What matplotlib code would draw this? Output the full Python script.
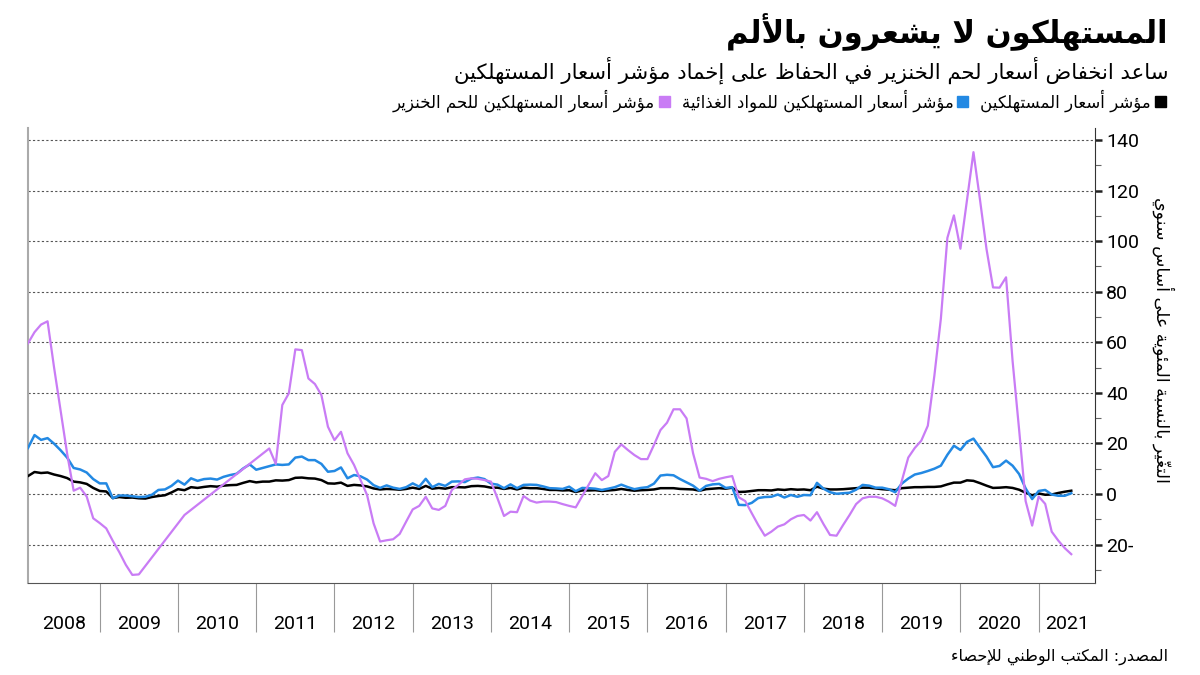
import numpy as np
import matplotlib
matplotlib.use('Agg')
import matplotlib.pyplot as plt
from matplotlib.patches import Rectangle
from matplotlib.ticker import MultipleLocator, FuncFormatter

title = 'المستهلكون لا يشعرون بالألم'
subtitle = 'ساعد انخفاض أسعار لحم الخنزير في الحفاظ على إخماد مؤشر أسعار المستهلكين'
series_names = ['مؤشر أسعار المستهلكين',
                'مؤشر أسعار المستهلكين للمواد الغذائية',
                'مؤشر أسعار المستهلكين للحم الخنزير']
ylabel = 'التغيّر بالنسبة المئوية على أساس سنوي'
source = 'المصدر: المكتب الوطني للإحصاء'
years = list(range(2008, 2022))

# monthly y/y %, Jan 2008 .. May 2021
cpi = [7.1, 8.7, 8.3, 8.5, 7.7, 7.1, 6.3, 4.9, 4.6, 4.0, 2.4, 1.2,
       1.0, -1.6, -1.2, -1.5, -1.4, -1.7, -1.8, -1.2, -0.8, -0.5, 0.6, 1.9,
       1.5, 2.7, 2.4, 2.8, 3.1, 2.9, 3.3, 3.5, 3.6, 4.4, 5.1, 4.6,
       4.9, 4.9, 5.4, 5.3, 5.5, 6.4, 6.5, 6.2, 6.1, 5.5, 4.2, 4.1,
       4.5, 3.2, 3.6, 3.4, 3.0, 2.2, 1.8, 2.0, 1.9, 1.7, 2.0, 2.5,
       2.0, 3.2, 2.1, 2.4, 2.1, 2.7, 2.7, 2.6, 3.1, 3.2, 3.0, 2.5,
       2.5, 2.0, 2.4, 1.8, 2.5, 2.3, 2.3, 2.0, 1.6, 1.6, 1.4, 1.5,
       0.8, 1.4, 1.4, 1.5, 1.2, 1.4, 1.6, 2.0, 1.6, 1.3, 1.5, 1.6,
       1.8, 2.3, 2.3, 2.3, 2.0, 1.9, 1.8, 1.3, 1.9, 2.1, 2.3, 2.1,
       2.5, 0.8, 0.9, 1.2, 1.5, 1.5, 1.4, 1.8, 1.6, 1.9, 1.7, 1.8,
       1.5, 2.9, 2.1, 1.8, 1.8, 1.9, 2.1, 2.3, 2.5, 2.5, 2.2, 1.9,
       1.7, 1.5, 2.3, 2.5, 2.7, 2.7, 2.8, 2.8, 3.0, 3.8, 4.5, 4.5,
       5.4, 5.2, 4.3, 3.3, 2.4, 2.5, 2.7, 2.4, 1.7, 0.5, -0.5, 0.2,
       -0.3, -0.2, 0.4, 0.9, 1.3]

food = [18.2, 23.3, 21.4, 22.1, 19.9, 17.3, 14.4, 10.3, 9.7, 8.5, 5.9, 4.2,
        4.2, -1.7, -0.6, -0.6, -0.9, -1.2, -1.1, -0.3, 1.6, 1.8, 3.2, 5.3,
        3.7, 6.2, 5.2, 5.9, 6.1, 5.7, 6.8, 7.5, 8.0, 10.1, 11.7, 9.6,
        10.3, 11.0, 11.7, 11.5, 11.7, 14.4, 14.8, 13.4, 13.4, 11.9, 8.8, 9.1,
        10.5, 6.2, 7.5, 7.0, 5.7, 3.5, 2.4, 3.4, 2.5, 2.0, 2.7, 4.2,
        2.9, 6.0, 2.7, 4.0, 3.2, 4.9, 5.0, 4.7, 6.1, 6.5, 5.9, 4.1,
        3.7, 2.3, 3.8, 2.3, 3.6, 3.7, 3.6, 3.0, 2.3, 2.2, 2.0, 2.9,
        1.1, 2.4, 2.3, 2.1, 1.6, 2.1, 2.7, 3.7, 2.7, 1.9, 2.4, 2.7,
        4.1, 7.3, 7.6, 7.4, 5.9, 4.6, 3.3, 1.3, 3.2, 3.8, 4.0, 2.4,
        2.7, -4.3, -4.4, -3.5, -1.6, -1.2, -1.1, -0.2, -1.4, -0.4, -1.1, -0.4,
        -0.5, 4.4, 2.1, 0.7, 0.1, 0.3, 0.5, 1.7, 3.6, 3.3, 2.5, 2.5,
        1.9, 0.7, 4.1, 6.1, 7.7, 8.3, 9.1, 10.0, 11.2, 15.5, 19.1, 17.4,
        20.6, 21.9, 18.3, 14.8, 10.6, 11.1, 13.2, 11.2, 7.9, 2.2, -2.0, 1.2,
        1.6, -0.2, -0.7, -0.7, 0.3]

# None = month missing in the source series
pork = [59.6, 64.0, 67.0, 68.3, 50.0, 33.0, 16.0, 1.3, 2.5, -1.0, -9.6, -11.5,
        -13.6, -18.5, -23.0, -28.0, -32.0, -31.8, None, None, None, None, None, None,
        -8.3, None, None, None, None, None, None, None, None, None, None, None,
        None, 18.0, 11.9, 35.2, 39.8, 57.2, 56.9, 45.7, 43.5, 39.1, 26.6, 21.3,
        24.6, 16.1, 11.5, 5.5, -0.4, -11.6, -18.8, -18.3, -17.9, -15.8, -10.9, -6.1,
        -4.7, -1.1, -5.7, -6.3, -4.7, 1.6, 3.6, 5.8, 6.2, 6.0, 5.5, 4.9,
        -1.7, -8.7, -7.0, -7.2, -0.8, -2.6, -3.4, -3.0, -3.0, -3.2, -4.0, -4.7,
        -5.3, -0.8, 3.7, 8.2, 5.5, 7.1, 16.7, 19.6, 17.4, 15.4, 13.8, 13.8,
        19.4, 25.3, 28.2, 33.5, 33.5, 29.9, 16.1, 6.5, 6.0, 5.1, 6.0, 6.6,
        7.1, -1.3, -2.8, -7.6, -12.3, -16.5, -14.9, -12.9, -12.0, -10.0, -8.7, -8.3,
        -10.5, -7.2, -11.9, -16.2, -16.5, -12.3, -8.3, -4.0, -1.7, -1.1, -1.1, -1.7,
        -3.0, -4.7, 5.1, 14.4, 18.2, 21.1, 27.0, 46.7, 69.3, 101.3, 110.2, 97.0,
        116.0, 135.2, 116.4, 96.9, 81.7, 81.6, 85.7, 52.6, 25.5, -2.8, -12.5, -1.0,
        -3.9, -14.9, -18.4, -21.4, -23.8]

colors = ['#000000', '#2389e3', '#c97cf5']

# --- tiny arabic shaper (matplotlib does no shaping / bidi) ---
AR = {'ء': (0xFE80, 1), 'آ': (0xFE81, 2), 'أ': (0xFE83, 2), 'ؤ': (0xFE85, 2),
      'إ': (0xFE87, 2), 'ئ': (0xFE89, 4), 'ا': (0xFE8D, 2), 'ب': (0xFE8F, 4),
      'ة': (0xFE93, 2), 'ت': (0xFE95, 4), 'ث': (0xFE99, 4), 'ج': (0xFE9D, 4),
      'ح': (0xFEA1, 4), 'خ': (0xFEA5, 4), 'د': (0xFEA9, 2), 'ذ': (0xFEAB, 2),
      'ر': (0xFEAD, 2), 'ز': (0xFEAF, 2), 'س': (0xFEB1, 4), 'ش': (0xFEB5, 4),
      'ص': (0xFEB9, 4), 'ض': (0xFEBD, 4), 'ط': (0xFEC1, 4), 'ظ': (0xFEC5, 4),
      'ع': (0xFEC9, 4), 'غ': (0xFECD, 4), 'ف': (0xFED1, 4), 'ق': (0xFED5, 4),
      'ك': (0xFED9, 4), 'ل': (0xFEDD, 4), 'م': (0xFEE1, 4), 'ن': (0xFEE5, 4),
      'ه': (0xFEE9, 4), 'و': (0xFEED, 2), 'ى': (0xFEEF, 2), 'ي': (0xFEF1, 4)}
LAM_ALEF = {'آ': 0xFEF5, 'أ': 0xFEF7, 'إ': 0xFEF9, 'ا': 0xFEFB}


def is_mark(c):
    return '\u064b' <= c <= '\u0652'


def ar(s):
    n = len(s)

    def nb(j, step):
        j += step
        while 0 <= j < n and is_mark(s[j]):
            j += step
        return (j, s[j]) if 0 <= j < n else (j, None)

    clusters = []
    skip = set()
    for i, c in enumerate(s):
        if i in skip:
            continue
        if is_mark(c):
            clusters[-1] += c
            continue
        if c not in AR:
            clusters.append(c)
            continue
        _, p = nb(i, -1)
        jn, q = nb(i, 1)
        join_prev = p in AR and AR[p][1] == 4
        if c == 'ل' and q in LAM_ALEF:
            clusters.append(chr(LAM_ALEF[q] + int(join_prev)))
            skip.add(jn)
            continue
        base, k = AR[c]
        join_next = k == 4 and q in AR and AR[q][1] > 1
        if k == 1:
            f = base
        elif join_prev and join_next:
            f = base + 3
        elif join_prev:
            f = base + 1
        elif join_next:
            f = base + 2
        else:
            f = base
        clusters.append(chr(f))
    return ''.join(reversed(clusters))


plt.rcParams['font.family'] = ['DejaVu Sans']

W, H = 1200, 675
fig = plt.figure(figsize=(12, 6.75), dpi=100)
ax = fig.add_axes([28 / W, 1 - 583 / H, (1095 - 28) / W, (583 - 128) / H])

x = years[0] + (np.arange(len(cpi)) + 1) / 12
pork_arr = np.array(pork, dtype=float)
ok = ~np.isnan(pork_arr)

ax.plot(x, cpi, color=colors[0], lw=1.8, zorder=3)
ax.plot(x, food, color=colors[1], lw=1.8, zorder=4)
ax.plot(x[ok], pork_arr[ok], color=colors[2], lw=1.6, zorder=5)

ax.set_xlim(x[0], 2021.72)
ax.set_ylim(-35.2, 144.75)

# y axis on the right
ax.yaxis.tick_right()
ax.set_yticks(range(-20, 141, 20))
ax.yaxis.set_minor_locator(MultipleLocator(10))
ax.yaxis.set_major_formatter(FuncFormatter(lambda v, p: f'{abs(int(v))}-' if v < 0 else f'{int(v)}'))
ax.tick_params(axis='y', which='major', length=5, width=1.8, color='#222',
               labelsize=14, pad=3, labelfontfamily='Roboto')
ax.tick_params(axis='y', which='minor', length=4, width=0.8, color='#666')
ax.grid(axis='y', which='major', ls=(0, (2, 2)), color='#555', lw=0.8)

# year separators + centred year labels
x0, x1 = ax.get_xlim()
ax.set_xticks(years[1:])
ax.set_xticklabels([])
mids = [(max(y, x0) + min(y + 1, x1)) / 2 for y in years]
ax.set_xticks(mids, minor=True)
ax.set_xticklabels([str(y) for y in years], minor=True)
ax.tick_params(axis='x', which='major', length=35, width=0.8, color='#999')
ax.tick_params(axis='x', which='minor', length=0, pad=23, labelsize=14,
               labelfontfamily='Roboto')

ax.spines['top'].set_visible(False)
ax.spines['left'].set_color('#aaaaaa')
ax.spines['left'].set_linewidth(1.5)
ax.spines['bottom'].set_color('#555555')
ax.spines['right'].set_color('#333333')

fig.text(1168 / W, 1 - 32 / H, ar(title), ha='right', va='center',
         fontsize=22, fontweight='bold')
fig.text(1168 / W, 1 - 70 / H, ar(subtitle), ha='right', va='center', fontsize=15.3)
fig.text(1163 / W, 1 - 340 / H, ar(ylabel), rotation=270, ha='center', va='center',
         fontsize=12.5)
fig.text(1168 / W, 1 - 657 / H, ar(source), ha='right', va='center', fontsize=11.5)

# legend, right to left
fig.canvas.draw()
rend = fig.canvas.get_renderer()
xr = 1166
for name, col in zip(series_names, colors):
    fig.add_artist(Rectangle(((xr - 11) / W, 1 - 107 / H), 11 / W, 11 / H,
                             transform=fig.transFigure, color=col))
    t = fig.text((xr - 15) / W, 1 - 101 / H, ar(name), ha='right', va='center', fontsize=12)
    w = t.get_window_extent(renderer=rend).width
    xr = xr - 15 - w - 12

fig.savefig('out.png', dpi=100)
